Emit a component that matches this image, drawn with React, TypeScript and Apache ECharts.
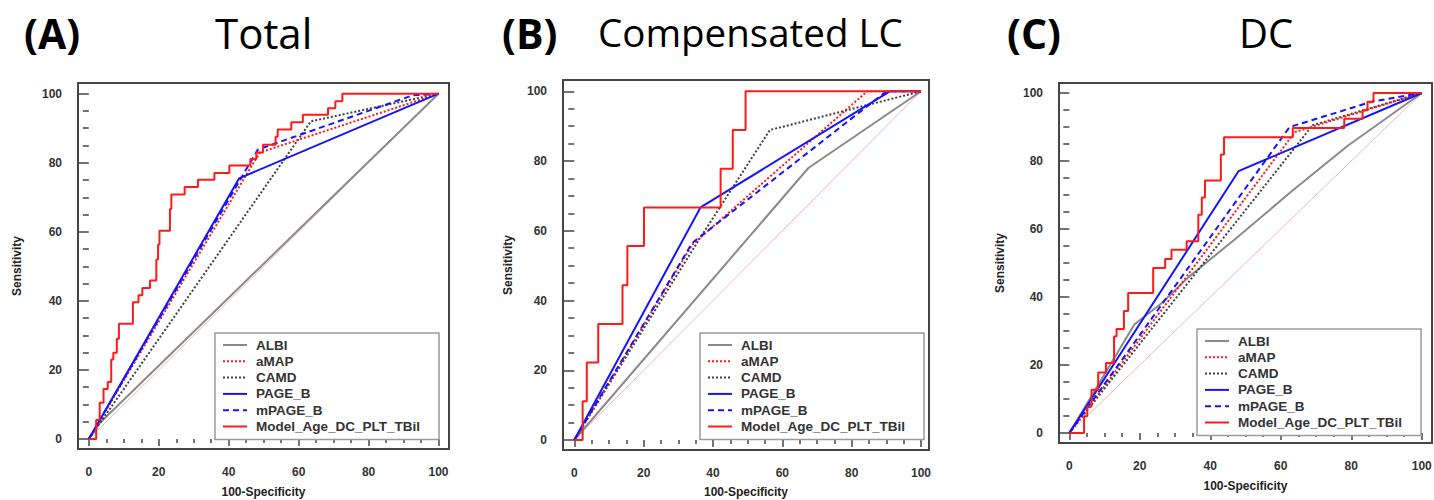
import React, { useEffect, useRef } from "react";
import * as echarts from "echarts";

// ---------- data ----------
const seriesNames = ["ALBI", "aMAP", "CAMD", "PAGE_B", "mPAGE_B", "Model_Age_DC_PLT_TBil"];
const majorTicks = [0, 20, 40, 60, 80, 100];
const minorTicks = [5, 10, 15, 25, 30, 35, 45, 50, 55, 65, 70, 75, 85, 90, 95];
const diagonal = [[0, 0], [100, 100]];
const panelLetters = ["(A)", "(B)", "(C)"];
const panelTitles = ["Total", "Compensated LC", "DC"];
const xAxisName = "100-Specificity";
const yAxisName = "Sensitivity";

// Panel A – Total
const albiA = [[0, 0], [3, 4.5], [100, 100]];
const amapA = [[0, 0], [46.5, 79], [49, 83], [100, 100]];
const camdA = [[0, 0], [63.5, 92], [100, 100]];
const pagebA = [[0, 0], [43, 75.5], [100, 100]];
const mpagebA = [[0, 0], [48.3, 83.8], [92.5, 99.5], [100, 100]];
const modelA = [
  [0, 0], [2.1, 0], [2.1, 5.5], [3.1, 5.5], [3.1, 10.5], [4.2, 10.5], [4.2, 14.5], [5.4, 14.5],
  [5.4, 16.5], [6.4, 16.5], [6.4, 23], [7, 23], [7, 25], [8, 25], [8, 29], [8.6, 29], [8.6, 33.4],
  [12.6, 33.4], [12.6, 39.6], [14.2, 39.6], [14.2, 41.6], [15.3, 41.6], [15.3, 43.7], [17.5, 43.7],
  [17.5, 45.9], [19.3, 45.9], [19.3, 52], [19.8, 52], [19.8, 56.3], [20.2, 56.3], [20.2, 60.3],
  [23.2, 60.3], [23.2, 66.6], [23.6, 66.6], [23.6, 70.8], [27.4, 70.8], [27.4, 73], [31.2, 73],
  [31.2, 75.1], [35.9, 75.1], [35.9, 77], [40.2, 77], [40.2, 79.2], [46.2, 79.2], [46.2, 81.1],
  [47.9, 81.1], [47.9, 83], [49.8, 83], [49.8, 85.2], [53.4, 85.2], [53.4, 87.5], [54, 87.5],
  [54, 89.6], [57.9, 89.6], [57.9, 91.7], [61.2, 91.7], [61.2, 93.9], [68.4, 93.9], [68.4, 95.8],
  [70.5, 95.8], [70.5, 97.8], [72.5, 97.8], [72.5, 100], [100, 100],
];

// Panel B – Compensated LC
const albiB = [[0, 0], [67.5, 78], [100, 100]];
const amapB = [[0, 0], [34, 56], [84.5, 100], [100, 100]];
const camdB = [[0, 0], [36, 57.5], [56.4, 88.9], [100, 100]];
const pagebB = [[0, 0], [36.4, 66.7], [91, 100], [100, 100]];
const mpagebB = [[0, 0], [34, 56.5], [90, 100], [100, 100]];
const modelB = [
  [0, 0], [2.4, 0], [2.4, 11.1], [3.6, 11.1], [3.6, 22.2], [6.9, 22.2], [6.9, 33.3], [13.9, 33.3],
  [13.9, 44.4], [15.3, 44.4], [15.3, 55.6], [20.1, 55.6], [20.1, 66.7], [42.2, 66.7], [42.2, 77.8],
  [45.7, 77.8], [45.7, 88.9], [49.4, 88.9], [49.4, 100], [100, 100],
];

// Panel C – DC
const albiC = [[0, 0], [18.5, 32], [26, 38], [34, 46], [47, 57], [63, 71], [79, 84.5], [100, 100]];
const amapC = [[0, 0], [64, 88.5], [100, 100]];
const camdC = [[0, 0], [69, 90.5], [100, 100]];
const pagebC = [[0, 0], [48, 77], [100, 100]];
const mpagebC = [[0, 0], [62.5, 90], [86, 97.5], [100, 100]];
const modelC = [
  [0, 0], [4.2, 0], [4.2, 4.9], [5.1, 4.9], [5.1, 7.8], [6.3, 7.8], [6.3, 12.7], [8.2, 12.7],
  [8.2, 17.8], [10.4, 17.8], [10.4, 20.6], [12.7, 20.6], [12.7, 28.4], [13.4, 28.4], [13.4, 30.6],
  [15.5, 30.6], [15.5, 35.9], [16.7, 35.9], [16.7, 41.2], [23.8, 41.2], [23.8, 48.5], [27.2, 48.5],
  [27.2, 51.2], [29, 51.2], [29, 53.9], [33.3, 53.9], [33.3, 56.4], [36.6, 56.4], [36.6, 64.2],
  [37.6, 64.2], [37.6, 69.3], [38.5, 69.3], [38.5, 74.3], [43, 74.3], [43, 81.9], [43.9, 81.9],
  [43.9, 87], [63.4, 87], [63.4, 89.7], [78, 89.7], [78, 92.4], [83.2, 92.4], [83.2, 94.9],
  [84.6, 94.9], [84.6, 97.4], [86.3, 97.4], [86.3, 100], [100, 100],
];

const panelData = [
  [albiA, amapA, camdA, pagebA, mpagebA, modelA],
  [albiB, amapB, camdB, pagebB, mpagebB, modelB],
  [albiC, amapC, camdC, pagebC, mpagebC, modelC],
];

// ---------- styles / layout ----------
const lineStyles: any[] = [
  { color: "#8a8a8a", type: "solid", width: 2 },
  { color: "#ff1a1a", type: [2, 2], width: 2 },
  { color: "#404040", type: [2, 2], width: 2 },
  { color: "#1414ff", type: "solid", width: 2 },
  { color: "#1414ff", type: [6, 4], width: 2 },
  { color: "#ff1a1a", type: "solid", width: 2 },
];
const seriesZ = [3, 4, 3, 6, 5, 7];

const layouts = [
  { grid: { left: 78, top: 83, width: 371, height: 366 }, x: [-3.1, 103], y: [-2.9, 103.1], legend: { left: 215, top: 333 }, letterX: 24, titleX: 215, titleSize: 42, yGap: 55, xGap: 37 },
  { grid: { left: 563, top: 80, width: 366, height: 370 }, x: [-3.26, 102.3], y: [-2.87, 103.24], legend: { left: 700, top: 333 }, letterX: 502, titleX: 598, titleSize: 38.5, yGap: 49, xGap: 36 },
  { grid: { left: 1059, top: 83, width: 373, height: 360 }, x: [-2.92, 102.9], y: [-2.94, 102.94], legend: { left: 1197, top: 329 }, letterX: 1007, titleX: 1239, titleSize: 40, yGap: 53, xGap: 37 },
];

const FRAME = "#454545";
const LABEL_FONT = "'Liberation Sans', Arial, sans-serif";
const TITLE_FONT = "'Open Sans', 'Noto Sans', sans-serif";

export default function App() {
  const ref = useRef<HTMLDivElement>(null);
  useEffect(() => {
    const chart = echarts.init(ref.current!, null, { renderer: "svg" });
    const grids: any[] = [];
    const xAxes: any[] = [];
    const yAxes: any[] = [];
    const series: any[] = [];
    const legends: any[] = [];
    const graphics: any[] = [];
    const tickLine = { color: FRAME, width: 1.5 };
    const labelStyle = { fontSize: 12, fontWeight: "bold", color: "#333", fontFamily: LABEL_FONT };
    const nameStyle = { fontSize: 12, fontWeight: "bold", color: "#222", fontFamily: LABEL_FONT };

    layouts.forEach((L, i) => {
      grids.push({
        ...L.grid, show: true, borderColor: FRAME, borderWidth: 2, backgroundColor: "transparent",
        containLabel: false, outerBoundsMode: "none",
      });
      xAxes.push({
        type: "value", gridIndex: i, position: "bottom", min: L.x[0], max: L.x[1],
        axisLine: { show: false }, splitLine: { show: false },
        axisTick: { show: true, customValues: majorTicks, length: 7, lineStyle: tickLine },
        axisLabel: { show: true, customValues: majorTicks, margin: 17, ...labelStyle },
        name: xAxisName, nameLocation: "middle", nameGap: L.xGap, nameTextStyle: nameStyle,
      });
      xAxes.push({
        type: "value", gridIndex: i, position: "bottom", offset: 0, min: L.x[0], max: L.x[1],
        axisLine: { show: false }, splitLine: { show: false },
        axisTick: { show: true, customValues: minorTicks, length: 4, lineStyle: tickLine },
        axisLabel: { show: false },
      });
      yAxes.push({
        type: "value", gridIndex: i, position: "left", min: L.y[0], max: L.y[1],
        axisLine: { show: false }, splitLine: { show: false },
        axisTick: { show: true, customValues: majorTicks, length: 11, lineStyle: tickLine },
        axisLabel: { show: true, customValues: majorTicks, margin: 16, ...labelStyle },
        name: yAxisName, nameLocation: "middle", nameGap: L.yGap, nameRotate: 90, nameTextStyle: nameStyle,
      });
      yAxes.push({
        type: "value", gridIndex: i, position: "left", offset: 0, min: L.y[0], max: L.y[1],
        axisLine: { show: false }, splitLine: { show: false },
        axisTick: { show: true, customValues: minorTicks, length: 6, lineStyle: tickLine },
        axisLabel: { show: false },
      });

      series.push({
        type: "line", name: "reference", xAxisIndex: 2 * i, yAxisIndex: 2 * i, data: diagonal,
        symbol: "none", lineStyle: { color: "#e6a6a6", width: 0.8 }, z: 2, silent: true,
      });
      panelData[i].forEach((d, k) => {
        series.push({
          type: "line", name: seriesNames[k], xAxisIndex: 2 * i, yAxisIndex: 2 * i, data: d,
          symbol: "none", showSymbol: false, lineStyle: lineStyles[k], itemStyle: { color: lineStyles[k].color }, z: seriesZ[k],
        });
      });

      legends.push({
        orient: "vertical", left: L.legend.left, top: L.legend.top, data: seriesNames,
        itemWidth: 24, itemHeight: 14, itemGap: 2.3, padding: [5, 19, 6, 7],
        itemStyle: { opacity: 0 },
        borderColor: "#9a9a9a", borderWidth: 1.5, backgroundColor: "#fff", selectedMode: false,
        textStyle: { fontSize: 13.5, fontWeight: "bold", color: "#333", fontFamily: LABEL_FONT, padding: [0, 0, 0, 4], lineHeight: 14 },
      });

      graphics.push({
        type: "text", x: L.letterX, y: 12,
        style: { text: panelLetters[i], fontSize: 41, fontWeight: "bold", fontFamily: TITLE_FONT, fill: "#000", verticalAlign: "top" },
      });
      graphics.push({
        type: "text", x: L.titleX, y: 32,
        style: { text: panelTitles[i], fontSize: L.titleSize, fontWeight: "normal", fontFamily: TITLE_FONT, fill: "#000", verticalAlign: "middle" },
      });
    });

    chart.setOption({
      animation: false,
      backgroundColor: "#fff",
      grid: grids,
      xAxis: xAxes,
      yAxis: yAxes,
      series,
      legend: legends,
      graphic: graphics,
    });
    return () => chart.dispose();
  }, []);
  return <div ref={ref} style={{ position: "fixed", left: 0, top: 0, width: 1434, height: 500, background: "#fff" }} />;
}
